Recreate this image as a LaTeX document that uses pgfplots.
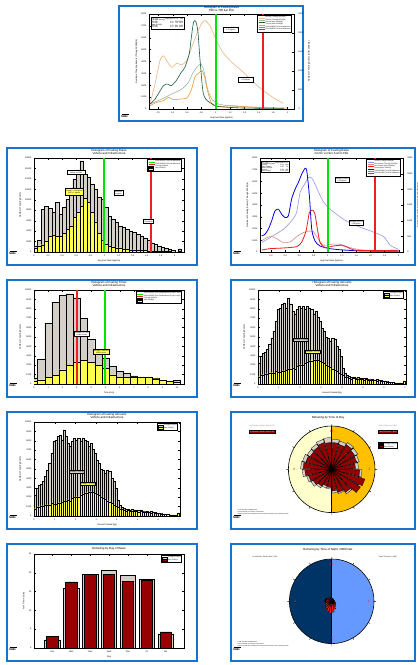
\documentclass[border=0pt]{standalone}
\usepackage{pgfplots}
\pgfplotsset{compat=1.18}
\usepgfplotslibrary{polar}
\usepackage{pgfplotstable}
\usepackage{fontspec}
\setmainfont{Liberation Sans}
\definecolor{frameblue}{RGB}{25,115,205}
\definecolor{tanc}{RGB}{240,180,130}
\definecolor{sagec}{RGB}{150,190,160}
\definecolor{dgreen}{RGB}{25,95,55}
\definecolor{orangec}{RGB}{245,150,50}
\definecolor{mgreen}{RGB}{0,230,0}
\definecolor{mred}{RGB}{240,30,30}
\definecolor{lpurple}{RGB}{150,150,230}
\definecolor{bluec}{RGB}{0,0,230}
\definecolor{pinkc}{RGB}{210,140,140}
\definecolor{grayb}{RGB}{212,208,200}
\definecolor{yellowb}{RGB}{255,255,80}
\definecolor{darkred}{RGB}{150,0,0}
\definecolor{paley}{RGB}{255,255,204}
\definecolor{gold}{RGB}{255,192,0}
\definecolor{navy}{RGB}{0,51,102}
\definecolor{lblue}{RGB}{102,153,255}
\newcommand\tk{\fontsize{2.2}{2.5}\selectfont}
\newcommand\tf{\fontsize{2.9}{3.0}\selectfont}
\newcommand\tsm{\fontsize{1.7}{2.0}\selectfont}
\pgfplotsset{
 panel/.style={scale only axis, axis line style={line width=0.6pt}, tick align=inside,
  major tick length=1.6pt, tick style={line width=0.3pt,black},
  scaled y ticks=false, scaled x ticks=false,
  ticklabel style={font=\tk}, label style={font=\tk}, title style={font=\tf, align=center, yshift=-6pt},
  /pgf/number format/assume math mode=true, /pgf/number format/1000 sep={},
  xticklabel style={yshift=0.8pt}, yticklabel style={xshift=0.8pt},
  xlabel style={yshift=3pt}, ylabel style={yshift=-3pt},
  legend style={font=\tsm, draw=black, line width=0.6pt, inner sep=0.6pt, row sep=-1.2pt, nodes={inner sep=0.4pt}},
  legend cell align=left},
 lgline/.style={legend image code/.code={\draw[##1] (0pt,0pt) -- (6pt,0pt);}},
 lgbox/.style={legend image code/.code={\draw[##1] (0pt,-0.8pt) rectangle (5pt,0.8pt);}},
 gbar/.style={ybar, bar shift=0pt, fill=grayb, draw=black, line width=0.2pt},
 ybarst/.style={ybar, bar shift=0pt, fill=yellowb, draw=black, line width=0.2pt},
 vgreen/.style={draw=mgreen, line width=1.9pt, forget plot},
 vred/.style={draw=mred, line width=1.9pt, forget plot},
}
\newcommand\nrel[2]{\node[anchor=south west, inner sep=0, font=\fontsize{2.6}{3}\selectfont\bfseries\itshape] at (#1pt,-#2pt) {NREL};
 \draw[line width=0.3pt] (#1pt+0.5pt,-#2pt+3.4pt) -- (#1pt+8pt,-#2pt+3.4pt);}

\pgfplotstableread{
x g y
0.05 2240 780
0.15 2950 930
0.25 3310 1000
0.35 3420 1070
0.45 3670 1100
0.55 4200 1170
0.65 4910 1210
0.75 5620 1170
0.85 6690 1350
0.95 7940 1280
1.05 8050 1250
1.15 8470 1350
1.25 8650 1420
1.35 8120 1500
1.45 9180 1570
1.55 8540 1600
1.65 7760 1710
1.75 7480 1640
1.85 7940 1890
1.95 8290 1990
2.05 8120 2060
2.15 8290 1990
2.25 7940 2240
2.35 8260 2350
2.45 8120 2420
2.55 7940 2490
2.65 7480 2560
2.75 7760 2600
2.85 7120 2530
2.95 6690 2420
3.05 5980 2350
3.15 5620 2210
3.25 4980 2060
3.35 4910 1920
3.45 4560 1780
3.55 4910 1640
3.65 4730 1500
3.75 4020 1350
3.85 3670 1170
3.95 2950 1070
4.05 1710 930
4.15 1170 780
4.25 930 710
4.35 820 640
4.45 710 570
4.55 750 610
4.65 680 530
4.75 710 570
4.85 640 500
4.95 680 530
5.05 610 460
5.15 640 500
5.25 530 430
5.35 570 460
5.45 500 390
5.55 460 430
5.65 500 360
5.75 430 390
5.85 390 320
5.95 360 280
6.05 320 280
6.15 280 250
6.25 250 210
6.35 210 180
6.45 180 180
6.55 140 140
6.65 110 110
6.75 110 110
6.85 70 70
6.95 360 280
}\amounts

\pgfplotstableread{
x g y
0.025 1150 830
0.075 2300 1150
0.125 8200 1410
0.175 8700 2110
0.225 8330 3080
0.275 7560 3200
0.325 9480 2950
0.375 7240 3080
0.425 8520 3590
0.475 10120 4360
0.525 11080 5000
0.575 13970 6600
0.625 15570 7560
0.675 17490 8840
0.725 14930 10250
0.775 14290 9480
0.825 13000 7560
0.875 12040 5770
0.925 10440 3590
0.975 10120 2300
1.025 8520 1470
1.075 6920 1150
1.125 6280 960
1.175 5640 830
1.225 5000 700
1.275 4680 580
1.325 4360 500
1.375 4040 450
1.425 3720 400
1.475 3400 350
1.525 3080 320
1.575 2750 280
1.625 2300 250
1.675 1790 220
1.725 1470 190
1.775 1150 160
1.825 960 130
1.875 770 110
1.925 510 90
1.975 380 70
2.065 640 120
}\rates

\pgfplotstableread{
x g y
0.0 640 285
0.5 2670 460
1.0 6515 710
1.5 8720 925
2.0 9470 1530
2.5 9610 1990
3.0 9185 2350
3.5 6980 2530
4.0 4735 2310
4.5 3670 1990
5.0 2780 1710
5.5 1890 1000
6.0 1350 750
6.5 1175 710
7.0 890 750
7.5 750 750
8.0 750 750
8.5 640 570
9.0 390 390
9.5 285 285
10.0 430 180
}\ftimes

\begin{document}
\begin{tikzpicture}
\useasboundingbox (0,0) rectangle (418pt,-665pt);
\fill[white] (0,0) rectangle (418pt,-665pt);
% frames
\draw[frameblue, line width=1.6pt] (119pt,-6pt) rectangle (303pt,-121pt);
\foreach \yt/\yb in {148/265, 280/397, 412/529, 544/661}{
  \draw[frameblue, line width=1.6pt] (7pt,-\yt pt) rectangle (197pt,-\yb pt);
  \draw[frameblue, line width=1.6pt] (231pt,-\yt pt) rectangle (415pt,-\yb pt);
}

%%%%%%%%%%%%%% Panel 1
\begin{axis}[panel, at={(149pt,-109pt)}, anchor=south west, width=145pt, height=95pt,
 xmin=0.07, xmax=2.09, ymin=0, ymax=8000, xtick={0.2,0.4,...,2.01}, ytick={0,1000,...,8000},
 ytick pos=left, title style={yshift=-1.5pt},
 title={Histogram of Fueling Rates\\350 vs 700 bar Fills},
 xlabel={Avg Fuel Rate (kg/min)}, ylabel={Number of Fueling Events (Through 2008Q4)},
 legend style={at={(rel axis cs:0.985,0.985)}, anchor=north east}]
\addlegendimage{lgline, tanc, line width=0.6pt}\addlegendentry{350 bar (Through 2008Q4)}
\addlegendimage{lgline, sagec, line width=0.6pt}\addlegendentry{700 bar (Through 2008Q4)}
\addlegendimage{lgline, dgreen, line width=0.6pt}\addlegendentry{350 bar (After 2008Q4)}
\addlegendimage{lgline, orangec, line width=0.6pt}\addlegendentry{700 bar (After 2008Q4)}
\addlegendimage{lgline, mgreen, line width=0.8pt}\addlegendentry{2009 MYRDD Tech Val Milestone}
\addlegendimage{lgline, mred, line width=0.8pt}\addlegendentry{2015 MYRDD Tech Val Milestone}
\addplot[tanc, line width=0.6pt, smooth, tension=0.4, forget plot] coordinates {(0.084,420)(0.153,2105)(0.223,4070)(0.27,4490)(0.316,4070)(0.386,3510)(0.456,3845)(0.526,3730)(0.595,4070)(0.665,5190)(0.735,6315)(0.805,7210)(0.851,7440)(0.92,7020)(0.99,6035)(1.084,4910)(1.2,4070)(1.316,3450)(1.41,2950)(1.595,1880)(1.795,980)(1.94,480)};
\addplot[sagec, line width=0.6pt, smooth, tension=0.4, forget plot] coordinates {(0.084,420)(0.247,840)(0.386,1260)(0.526,1680)(0.619,2245)(0.674,2950)(0.735,3510)(0.795,3790)(0.84,3090)(0.887,1680)(0.944,840)(1.037,420)(1.223,250)(1.5,140)(1.94,85)};
\addplot[orangec, line width=0.6pt, smooth, tension=0.4, forget plot] coordinates {(0.084,280)(0.177,560)(0.27,700)(0.34,980)(0.41,785)(0.5,840)(0.595,925)(0.656,1540)(0.712,2720)(0.758,3000)(0.805,3230)(0.84,2810)(0.879,1680)(0.935,560)(1.014,200)(1.223,280)(1.41,200)(1.78,85)(1.99,85)};
\addplot[dgreen, line width=0.6pt, smooth, tension=0.4, forget plot] coordinates {(0.084,420)(0.15,800)(0.27,1960)(0.33,2100)(0.38,1960)(0.45,2390)(0.52,3090)(0.57,3510)(0.63,4630)(0.66,6030)(0.69,7300)(0.72,7400)(0.75,6600)(0.78,4210)(0.82,1540)(0.86,840)(0.95,420)(1.05,200)(1.4,80)(1.95,50)};
\addplot[vgreen] coordinates {(1.0,0)(1.0,8000)};
\addplot[vred] coordinates {(1.66,0)(1.66,8000)};
\node[draw, fill=white, line width=0.4pt, font=\tsm, anchor=north west, inner sep=0.6pt] at (rel axis cs:0.015,0.965) {\begin{tabular}{@{}l@{\,}r@{\,}r@{\,}r@{}}Fill Type & Avg kg/min & \% > 1 & Fills\\[-0.6pt] Through 2008Q4&&&\\[-0.6pt] 350 bar & 0.72 & 18\% & 15931\\[-0.6pt] 700 bar & 0.61 & 6\% & 5412\\[-0.6pt] After 2008Q4&&&\\[-0.6pt] 350 bar & 0.78 & 26\% & 3905\\[-0.6pt] 700 bar & 0.67 & 14\% & 4181\end{tabular}};
\node[draw, fill=white, line width=0.4pt, font=\tsm, align=center, inner sep=0.8pt] at (axis cs:1.21,6700) {Average (350 bar)\\0.72 kg/min};
\node[draw, fill=white, line width=0.4pt, font=\tsm, align=center, inner sep=0.8pt] at (axis cs:1.42,2500) {Average (700 bar)\\0.63 kg/min};
\end{axis}
\begin{axis}[panel, at={(149pt,-109pt)}, anchor=south west, width=145pt, height=95pt,
 xmin=0.07, xmax=2.09, ymin=0, ymax=2500, axis y line*=right, axis x line=none, ytick={0,500,...,2500},
 ylabel={Number of Fueling Events (After 2008Q4)}, ylabel style={yshift=5pt}]
\addplot[draw=none] coordinates {(1,0)};
\end{axis}
\nrel{121}{118}

%%%%%%%%%%%%%% Panel 2
\begin{axis}[panel, at={(34pt,-252pt)}, anchor=south west, width=150pt, height=94pt,
 xmin=0, xmax=2.13, ymin=0, ymax=18000, xtick={0,0.2,...,2.01}, ytick={0,2000,...,18000},
 title={Histogram of Fueling Rates\\Vehicle and Infrastructure},
 xlabel={Avg Fuel Rate (kg/min)}, ylabel={Number of Fueling Events},
 legend style={at={(rel axis cs:0.985,0.985)}, anchor=north east}]
\addlegendimage{lgline, mgreen, line width=0.8pt}\addlegendentry{2009 MYRDD Tech Val Milestone}
\addlegendimage{lgline, mred, line width=0.8pt}\addlegendentry{2015 MYRDD Tech Val Milestone}
\addlegendimage{lgbox, fill=grayb, draw=black}\addlegendentry{Through 2008Q4}
\addlegendimage{lgbox, fill=yellowb, draw=black}\addlegendentry{After 2008Q4}
\addplot[gbar, bar width=0.05, forget plot] table[x=x, y=g] {\rates};
\addplot[ybarst, bar width=0.05, forget plot] table[x=x, y=y] {\rates};
\addplot[vgreen] coordinates {(1.0,0)(1.0,18000)};
\addplot[vred] coordinates {(1.66,0)(1.66,18000)};
\node[draw, fill=white, line width=0.4pt, font=\tsm, align=center, inner sep=0.6pt] at (axis cs:0.6,15300) {Average = 0.63 kg/min\\Events = 21343};
\node[draw, fill=yellowb, line width=0.4pt, font=\tsm, align=center, inner sep=0.6pt] at (axis cs:0.57,11600) {8,086 Events\\Average = 0.69 kg/min\\25\% > 1 kg/min};
\node[draw, fill=white, line width=0.4pt, font=\tsm, align=center, inner sep=0.6pt] at (axis cs:1.2,11300) {Milestone\\1 kg/min};
\node[draw, fill=white, line width=0.4pt, font=\tsm, align=center, inner sep=0.6pt] at (axis cs:1.62,5900) {Milestone\\1.66 kg/min};
\end{axis}
\nrel{9}{255}

%%%%%%%%%%%%%% Panel 3
\begin{axis}[panel, at={(260pt,-252pt)}, anchor=south west, width=143pt, height=94pt,
 xmin=0.045, xmax=2.06, ymin=0, ymax=8000, xtick={0.2,0.4,...,2.01}, ytick={0,1000,...,8000},
 ytick pos=left,
 title={Histogram of Fueling Rates\\Comm vs Non-Comm Fills},
 xlabel={Avg Fuel Rate (kg/min)}, ylabel={Number of Fueling Events (Through 2008Q4)},
 legend style={at={(rel axis cs:0.985,0.985)}, anchor=north east}]
\addlegendimage{lgline, lpurple, line width=0.6pt}\addlegendentry{Comm (Through 2008Q4)}
\addlegendimage{lgline, pinkc, line width=0.6pt}\addlegendentry{Non-Comm (Through 2008Q4)}
\addlegendimage{lgline, mred, line width=0.6pt}\addlegendentry{Non-Comm (After 2008Q4)}
\addlegendimage{lgline, bluec, line width=0.6pt}\addlegendentry{Comm (After 2008Q4)}
\addlegendimage{lgline, mgreen, line width=0.8pt}\addlegendentry{2009 MYRDD Tech Val Milestone}
\addlegendimage{lgline, mred, line width=0.8pt}\addlegendentry{2015 MYRDD Tech Val Milestone}
\addplot[lpurple, line width=0.6pt, smooth, tension=0.4, forget plot] coordinates {(0.068,797)(0.209,1310)(0.374,1936)(0.49,2648)(0.56,3360)(0.61,5068)(0.666,5694)(0.727,6350)(0.774,6292)(0.82,5780)(0.868,5125)(0.939,4270)(1.033,3644)(1.22,2790)(1.41,2220)(1.6,1794)(1.786,1310)(1.88,570)(2.0,228)};
\addplot[pinkc, line width=0.6pt, smooth, tension=0.4, forget plot] coordinates {(0.068,940)(0.139,1224)(0.209,1310)(0.28,1139)(0.374,797)(0.468,854)(0.562,1310)(0.656,1651)(0.75,1794)(0.798,1737)(0.868,1082)(0.939,570)(1.033,655)(1.174,655)(1.315,370)(1.5,171)(2.0,114)};
\addplot[bluec, line width=0.8pt, smooth, tension=0.4, forget plot] coordinates {(0.068,1367)(0.115,1509)(0.162,1936)(0.209,2648)(0.256,3500)(0.304,3644)(0.35,3217)(0.398,2932)(0.445,3075)(0.49,4498)(0.54,5352)(0.586,5922)(0.633,6633)(0.68,7118)(0.704,6918)(0.741,4783)(0.774,1936)(0.82,940)(0.89,512)(1.03,285)(1.22,171)(1.5,85)(2.0,60)};
\addplot[mred, line width=0.8pt, smooth, tension=0.4, forget plot] coordinates {(0.068,171)(0.186,285)(0.374,342)(0.562,455)(0.633,854)(0.694,1794)(0.741,3360)(0.788,3560)(0.82,3217)(0.854,1936)(0.892,797)(0.962,370)(1.08,512)(1.2,570)(1.29,370)(1.41,142)(2.0,142)};
\addplot[vgreen] coordinates {(1.0,0)(1.0,8000)};
\addplot[vred] coordinates {(1.66,0)(1.66,8000)};
\node[draw, fill=white, line width=0.4pt, font=\tsm, anchor=north west, inner sep=0.6pt] at (rel axis cs:0.01,0.97) {\begin{tabular}{@{}l@{\,}r@{\,}r@{}}Fill Type & Avg kg/min & \% > 1\\[-0.6pt] Through 2008Q4&&\\[-0.6pt] Comm & 0.69 & 11\%\\[-0.6pt] Non-Comm & 0.55 & 7\%\\[-0.6pt] After 2008Q4&&\\[-0.6pt] Comm & 0.62 & 8\%\\[-0.6pt] Non-Comm & 0.74 & 19\%\end{tabular}};
\node[draw, fill=white, line width=0.4pt, font=\tsm, align=center, inner sep=0.8pt] at (axis cs:1.2,6150) {Average (Comm)\\0.66 kg/min};
\node[draw, fill=white, line width=0.4pt, font=\tsm, align=center, inner sep=0.8pt] at (axis cs:1.4,2500) {Average (Non-C)\\0.58 kg/min};
\end{axis}
\begin{axis}[panel, at={(260pt,-252pt)}, anchor=south west, width=143pt, height=94pt,
 xmin=0.045, xmax=2.06, ymin=0, ymax=3000, axis y line*=right, axis x line=none, ytick={0,500,...,3000},
 ylabel={Number of Fueling Events (Through 2008Q4)}, ylabel style={yshift=5pt}]
\addplot[draw=none] coordinates {(1,0)};
\end{axis}
\nrel{233}{255}

%%%%%%%%%%%%%% Panel 4
\begin{axis}[panel, at={(34pt,-384pt)}, anchor=south west, width=150pt, height=94pt,
 xmin=0, xmax=10.5, ymin=0, ymax=10000, xtick={0,1,...,10}, ytick={0,1000,...,10000},
 title={Histogram of Fueling Times\\Vehicle and Infrastructure},
 xlabel={Time (min)}, ylabel={Number of Fueling Events},
 legend style={at={(rel axis cs:0.985,0.985)}, anchor=north east}]
\addlegendimage{lgline, mgreen, line width=0.8pt}\addlegendentry{2009 MYRDD Tech Val Milestone (5 kg in 5 min)}
\addlegendimage{lgline, mred, line width=0.8pt}\addlegendentry{2015 MYRDD Tech Val Milestone (5 kg in 3 min)}
\addlegendimage{lgbox, fill=grayb, draw=black}\addlegendentry{Through 2008Q4}
\addlegendimage{lgbox, fill=yellowb, draw=black}\addlegendentry{After 2008Q4}
\addplot[gbar, bar width=0.5, forget plot] table[x=x, y=g] {\ftimes};
\addplot[ybarst, bar width=0.5, forget plot] table[x=x, y=y] {\ftimes};
\addplot[vred] coordinates {(3.0,0)(3.0,10000)};
\addplot[vgreen] coordinates {(5.0,0)(5.0,10000)};
\node[draw, fill=white, line width=0.4pt, font=\tsm, align=center, inner sep=0.6pt] at (axis cs:3.35,5350) {Average = 3.2 min\\21343 Events};
\node[draw, fill=yellowb, line width=0.4pt, font=\tsm, align=center, inner sep=0.6pt] at (axis cs:4.7,3450) {Average = 3.88 min\\8086 Events};
\end{axis}
\nrel{9}{387}

%%%%%%%%%%%%%% Panel 5
\begin{axis}[panel, at={(258pt,-384pt)}, anchor=south west, width=148pt, height=94pt,
 xmin=0, xmax=7.05, ymin=0, ymax=10000, xtick={0,1,...,7}, ytick={0,1000,...,10000},
 title={Histogram of Fueling Amounts\\Vehicle and Infrastructure},
 xlabel={Amount Fueled (kg)}, ylabel={Number of Fueling Events},
 legend style={at={(rel axis cs:0.985,0.985)}, anchor=north east}]
\addlegendimage{lgbox, fill=grayb, draw=black}\addlegendentry{Through 2008Q4}
\addlegendimage{lgbox, fill=yellowb, draw=black}\addlegendentry{After 2008Q4}
\addplot[gbar, bar width=0.1, line width=0.12pt, forget plot] table[x=x, y=g] {\amounts};
\addplot[ybarst, bar width=0.1, line width=0.12pt, forget plot] table[x=x, y=y] {\amounts};
\node[draw, fill=grayb, line width=0.4pt, font=\tsm, inner sep=0.6pt] at (axis cs:2.05,4700) {Average = 2.06 kg};
\node[draw, fill=yellowb, line width=0.4pt, font=\tsm, inner sep=0.6pt] at (axis cs:2.6,3400) {Average = 2.47 kg};
\end{axis}
\nrel{233}{387}

%%%%%%%%%%%%%% Panel 6
\begin{axis}[panel, at={(34pt,-516pt)}, anchor=south west, width=146pt, height=94pt,
 xmin=0, xmax=7.05, ymin=0, ymax=10000, xtick={0,1,...,7}, ytick={0,1000,...,10000},
 title={Histogram of Fueling Amounts\\Vehicle and Infrastructure},
 xlabel={Amount Fueled (kg)}, ylabel={Number of Fueling Events},
 legend style={at={(rel axis cs:0.985,0.985)}, anchor=north east}]
\addlegendimage{lgbox, fill=grayb, draw=black}\addlegendentry{Through 2008Q4}
\addlegendimage{lgbox, fill=yellowb, draw=black}\addlegendentry{After 2008Q4}
\addplot[gbar, bar width=0.1, line width=0.12pt, forget plot] table[x=x, y=g] {\amounts};
\addplot[ybarst, bar width=0.1, line width=0.12pt, forget plot] table[x=x, y=y] {\amounts};
\node[draw, fill=grayb, line width=0.4pt, font=\tsm, inner sep=0.6pt] at (axis cs:2.05,4700) {Average = 2.06 kg};
\node[draw, fill=yellowb, line width=0.4pt, font=\tsm, inner sep=0.6pt] at (axis cs:2.6,3400) {Average = 2.47 kg};
\end{axis}
\nrel{9}{519}

%%%%%%%%%%%%%% Panel 8
\begin{axis}[panel, at={(34pt,-648pt)}, anchor=south west, width=150pt, height=94pt,
 xmin=-0.97, xmax=6.97, ymin=0, ymax=25, xtick={0,...,6}, xticklabels={Sun,Mon,Tues,Wed,Thur,Fri,Sat},
 ytick={0,5,...,25},
 title={Refueling by Day of Week},
 xlabel={Day}, ylabel={\% of Fills in a Day},
 legend style={at={(rel axis cs:0.985,0.985)}, anchor=north east}]
\addlegendimage{lgbox, fill=grayb, draw=black}\addlegendentry{Through 2008Q4}
\addlegendimage{lgbox, fill=darkred, draw=black}\addlegendentry{After 2008Q4}
\addplot[ybar, bar shift=0pt, bar width=0.81, fill=grayb, draw=black, line width=0.4pt, forget plot] coordinates {(0,2.2)(1,15.8)(2,19.6)(3,20.6)(4,19.4)(5,18.2)(6,3.8)};
\addplot[ybar, bar shift=0pt, bar width=0.6, fill=darkred, draw=black, line width=0.4pt, forget plot] coordinates {(0,3.1)(1,17.6)(2,19.5)(3,19.6)(4,17.8)(5,18.0)(6,4.3)};
\end{axis}
\nrel{9}{651}

%%%%%%%%%%%%%% Panel 7 (polar)
\node[font=\tf] at (328pt,-418pt) {Refueling by Time of Day};
\begin{polaraxis}[at={(331.7pt,-469.3pt)}, anchor=center, width=86.6pt, height=86.6pt, scale only axis,
 ymin=0, ymax=1, xtick={0,30,...,330}, xticklabels={}, ytick=\empty, grid=none,
 axis line style={line width=0.6pt}, y axis line style={draw=none}, tick align=inside, major tick length=2pt, tick style={black, line width=0.4pt},
 axis on top, clip=false]
\addplot[fill=paley, draw=none] coordinates {(90,1)(100,1)(110,1)(120,1)(130,1)(140,1)(150,1)(160,1)(170,1)(180,1)(190,1)(200,1)(210,1)(220,1)(230,1)(240,1)(250,1)(260,1)(270,1)};
\addplot[fill=gold, draw=none] coordinates {(-90,1)(-80,1)(-70,1)(-60,1)(-50,1)(-40,1)(-30,1)(-20,1)(-10,1)(0,1)(10,1)(20,1)(30,1)(40,1)(50,1)(60,1)(70,1)(80,1)(90,1)};
\addplot[fill=grayb, draw=black, line width=0.25pt] coordinates {(0,0)
(89.5,.70)(75.5,.70)(0,0)(74.5,.68)(60.5,.68)(0,0)(59.5,.72)(45.5,.72)(0,0)(44.5,.70)(30.5,.70)(0,0)
(29.5,.66)(15.5,.66)(0,0)(14.5,.62)(0.5,.62)(0,0)(-0.5,.70)(-14.5,.70)(0,0)(-15.5,.72)(-29.5,.72)(0,0)
(-30.5,.70)(-44.5,.70)(0,0)(-45.5,.66)(-59.5,.66)(0,0)(-60.5,.58)(-74.5,.58)(0,0)(-75.5,.55)(-89.5,.55)(0,0)
(-90.5,.46)(-104.5,.46)(0,0)(-105.5,.45)(-119.5,.45)(0,0)(-120.5,.50)(-134.5,.50)(0,0)(-135.5,.56)(-149.5,.56)(0,0)
(-150.5,.60)(-164.5,.60)(0,0)(-165.5,.68)(-179.5,.68)(0,0)(-180.5,.72)(-194.5,.72)(0,0)(-195.5,.70)(-209.5,.70)(0,0)
(-210.5,.66)(-224.5,.66)(0,0)(-225.5,.68)(-239.5,.68)(0,0)(-240.5,.72)(-254.5,.72)(0,0)(-255.5,.74)(-269.5,.74)(0,0)};
\addplot[fill=darkred, draw=black, line width=0.25pt] coordinates {(0,0)
(88.5,.62)(76.5,.62)(0,0)(73.5,.60)(61.5,.60)(0,0)(58.5,.66)(46.5,.66)(0,0)(43.5,.62)(31.5,.62)(0,0)
(28.5,.60)(16.5,.60)(0,0)(13.5,.55)(1.5,.55)(0,0)(-1.5,.65)(-13.5,.65)(0,0)(-16.5,.80)(-28.5,.80)(0,0)
(-31.5,.78)(-43.5,.78)(0,0)(-46.5,.62)(-58.5,.62)(0,0)(-61.5,.55)(-73.5,.55)(0,0)(-76.5,.50)(-88.5,.50)(0,0)
(-91.5,.42)(-103.5,.42)(0,0)(-106.5,.40)(-118.5,.40)(0,0)(-121.5,.45)(-133.5,.45)(0,0)(-136.5,.50)(-148.5,.50)(0,0)
(-151.5,.55)(-163.5,.55)(0,0)(-166.5,.62)(-178.5,.62)(0,0)(-181.5,.66)(-193.5,.66)(0,0)(-196.5,.62)(-208.5,.62)(0,0)
(-211.5,.58)(-223.5,.58)(0,0)(-226.5,.60)(-238.5,.60)(0,0)(-241.5,.64)(-253.5,.64)(0,0)(-256.5,.62)(-268.5,.62)(0,0)};
\addplot[black, line width=0.5pt] coordinates {(90,1)(270,1)};
\node[font=\fontsize{3.2}{3.5}\selectfont, text=mred] at (axis cs:90,0.88) {12};
\node[font=\fontsize{3.2}{3.5}\selectfont, text=mred] at (axis cs:0,0.87) {3};
\node[font=\fontsize{3.2}{3.5}\selectfont, text=mred] at (axis cs:270,0.88) {6};
\node[font=\fontsize{3.2}{3.5}\selectfont, text=mred] at (axis cs:180,0.87) {9};
\end{polaraxis}
\node[font=\tsm, text=gray] at (262pt,-426pt) {\% of fills b/t 6 AM \& 6 PM: 86.7\%};
\node[font=\tsm, text=white, fill=darkred, draw=black, line width=0.4pt, inner sep=0.6pt] at (262pt,-431.5pt) {\% of fills b/t 6 AM \& 6 PM: 85.3\%};
\node[font=\tsm, text=gray] at (388pt,-426pt) {Total FC Events = 22457};
\node[font=\tsm, text=white, fill=darkred, draw=black, line width=0.4pt, inner sep=0.6pt] at (388pt,-431.5pt) {Total Fill Events = 8565};
\node[draw=black, line width=0.6pt, fill=white, font=\tsm, align=left, inner sep=0.6pt, anchor=north west] at (378pt,-442pt) {\tikz\draw[fill=grayb] (0,0) rectangle (4pt,1.4pt); Through 2008Q4\\[-0.6pt]\tikz\draw[fill=darkred] (0,0) rectangle (4pt,1.4pt); After 2008Q4};
\node[font=\fontsize{1.4}{1.8}\selectfont, align=left, anchor=north west] at (234pt,-506pt) {1) Fills Included: 2008Q4-2009\\2) Times based on local time of the station\\3) Data reported from available fill events with time stamps at the refueling location};
\nrel{233}{519}

%%%%%%%%%%%%%% Panel 9 (polar)
\node[font=\tf] at (328pt,-550pt) {Refueling by Time of Night: 2008 Past};
\begin{polaraxis}[at={(331.7pt,-601.3pt)}, anchor=center, width=84.6pt, height=84.6pt, scale only axis,
 ymin=0, ymax=1, xtick={0,30,...,330}, xticklabels={}, ytick=\empty, grid=none,
 axis line style={line width=0.6pt}, y axis line style={draw=none}, tick align=inside, major tick length=2pt, tick style={black, line width=0.4pt},
 axis on top, clip=false]
\addplot[fill=navy, draw=none] coordinates {(90,1)(100,1)(110,1)(120,1)(130,1)(140,1)(150,1)(160,1)(170,1)(180,1)(190,1)(200,1)(210,1)(220,1)(230,1)(240,1)(250,1)(260,1)(270,1)};
\addplot[fill=lblue, draw=none] coordinates {(-90,1)(-80,1)(-70,1)(-60,1)(-50,1)(-40,1)(-30,1)(-20,1)(-10,1)(0,1)(10,1)(20,1)(30,1)(40,1)(50,1)(60,1)(70,1)(80,1)(90,1)};
\addplot[black, line width=0.6pt] coordinates {(90,1)(270,1)};
\addplot[fill=black, draw=black, line width=0.2pt] coordinates {(0,0)
(89.5,.08)(75.5,.08)(0,0)(74.5,.07)(60.5,.07)(0,0)(59.5,.06)(45.5,.06)(0,0)(44.5,.06)(30.5,.06)(0,0)
(29.5,.06)(15.5,.06)(0,0)(14.5,.07)(0.5,.07)(0,0)(-0.5,.07)(-14.5,.07)(0,0)(-15.5,.08)(-29.5,.08)(0,0)
(-30.5,.09)(-44.5,.09)(0,0)(-45.5,.10)(-59.5,.10)(0,0)(-60.5,.12)(-74.5,.12)(0,0)(-75.5,.14)(-89.5,.14)(0,0)
(-90.5,.15)(-104.5,.15)(0,0)(-105.5,.16)(-119.5,.16)(0,0)(-120.5,.15)(-134.5,.15)(0,0)(-135.5,.14)(-149.5,.14)(0,0)
(-150.5,.15)(-164.5,.15)(0,0)(-165.5,.16)(-179.5,.16)(0,0)(-180.5,.17)(-194.5,.17)(0,0)(-195.5,.15)(-209.5,.15)(0,0)
(-210.5,.12)(-224.5,.12)(0,0)(-225.5,.10)(-239.5,.10)(0,0)(-240.5,.09)(-254.5,.09)(0,0)(-255.5,.09)(-269.5,.09)(0,0)};
\addplot[fill=mred, draw=black, line width=0.2pt] coordinates {(0,0)
(88.5,.06)(76.5,.06)(0,0)(73.5,.05)(61.5,.05)(0,0)(58.5,.05)(46.5,.05)(0,0)(43.5,.05)(31.5,.05)(0,0)
(28.5,.06)(16.5,.06)(0,0)(13.5,.07)(1.5,.07)(0,0)(-1.5,.08)(-13.5,.08)(0,0)(-16.5,.10)(-28.5,.10)(0,0)
(-31.5,.12)(-43.5,.12)(0,0)(-46.5,.15)(-58.5,.15)(0,0)(-61.5,.20)(-73.5,.20)(0,0)(-76.5,.26)(-88.5,.26)(0,0)
(-91.5,.28)(-103.5,.28)(0,0)(-106.5,.25)(-118.5,.25)(0,0)(-121.5,.22)(-133.5,.22)(0,0)(-136.5,.18)(-148.5,.18)(0,0)
(-151.5,.16)(-163.5,.16)(0,0)(-166.5,.14)(-178.5,.14)(0,0)(-181.5,.12)(-193.5,.12)(0,0)(-196.5,.12)(-208.5,.12)(0,0)
(-211.5,.10)(-223.5,.10)(0,0)(-226.5,.10)(-238.5,.10)(0,0)(-241.5,.08)(-253.5,.08)(0,0)(-256.5,.07)(-268.5,.07)(0,0)};
\node[font=\fontsize{3.2}{3.5}\selectfont, text=mred] at (axis cs:90,0.88) {12};
\node[font=\fontsize{3.2}{3.5}\selectfont, text=mred] at (axis cs:0,0.87) {3};
\node[font=\fontsize{3.2}{3.5}\selectfont, text=mred] at (axis cs:270,0.88) {6};
\node[font=\fontsize{3.2}{3.5}\selectfont, text=mred] at (axis cs:180,0.87) {9};
\end{polaraxis}
\node[font=\tsm] at (265pt,-557pt) {\% of fills b/t 6 PM \& 6 AM: 13.3\%};
\node[font=\tsm] at (388pt,-557pt) {Total FC Events = 22457};
\node[font=\fontsize{1.4}{1.8}\selectfont, align=left, anchor=north west] at (234pt,-638pt) {1) Fills Included: 2008Q4-2009\\2) Times based on local time of the station\\3) Data reported from available fill events with time stamps at the refueling location};
\nrel{233}{651}
\end{tikzpicture}
\end{document}
